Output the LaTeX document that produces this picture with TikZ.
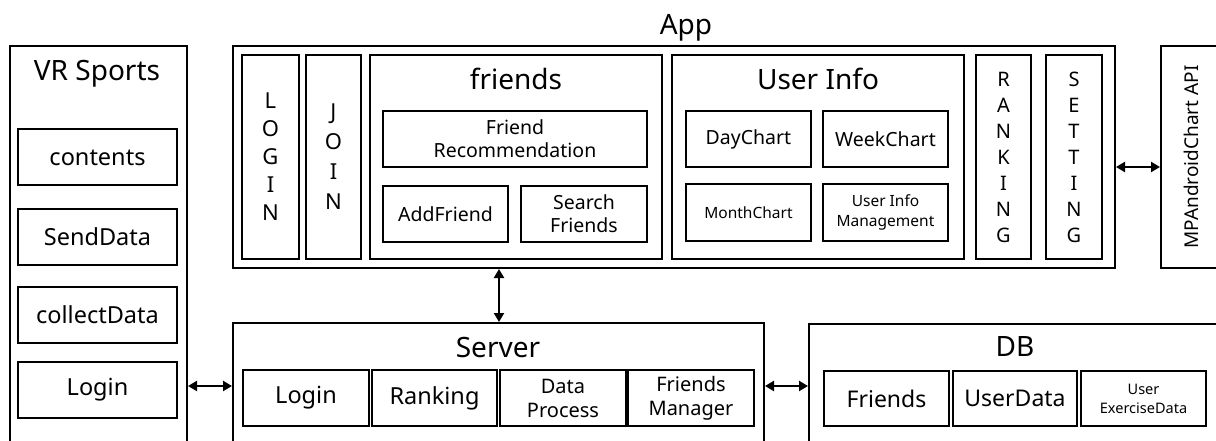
\documentclass[tikz,border=0pt]{standalone}
\usepackage{fontspec}
\setmainfont{Noto Sans}
\usetikzlibrary{arrows.meta}
\tikzset{
  box/.style={draw, line width=2pt, inner sep=0pt, align=center},
  sz/.style 2 args={minimum width=#1pt, minimum height=#2pt},
  txt/.style 2 args={font=\fontsize{#1}{#2}\selectfont},
  title/.style={inner sep=0pt, anchor=base, font=\fontsize{28}{32}\selectfont},
  link/.style={line width=2.2pt, {Triangle[length=9pt,width=10pt]}-{Triangle[length=9pt,width=10pt]}},
}
\begin{document}
\begin{tikzpicture}[x=1pt,y=-1pt]
\useasboundingbox (0,0) rectangle (1216,441);
\clip (0,0) rectangle (1216,441);

% outer containers (some run past the page edge)
\node[box, sz={177}{434}] (vr) at (98.5,263) {};
\node[box, sz={882}{222}] (app) at (674,157) {};
\node[box, sz={79}{222}] (mp) at (1200.5,157) {};
\node[box, sz={531}{157}] (server) at (498.5,401.5) {};
\node[box, sz={431}{156}] (db) at (1024.5,402) {};

% titles
\node[title] (appT) at (686,35) {App};
\node[title] (vrT) at (97,81) {VR Sports};
\node[title] (serverT) at (498,357) {Server};
\node[title] (dbT) at (1015,356) {DB};
\node[rotate=90, inner sep=0pt, txt={19}{22}] (mpT) at (1191,157) {MPAndroidChart API};

% VR Sports
\node[box, sz={159}{56}, txt={23.5}{28}] (contents) at (97.5,157.5) {contents};
\node[box, sz={159}{56}, txt={23.5}{28}] (senddata) at (97.5,237) {SendData};
\node[box, sz={159}{56}, txt={23.5}{28}] (collect) at (97.5,314.5) {collectData};
\node[box, sz={159}{56}, txt={23.5}{28}] (vrlogin) at (97.5,389.5) {Login};

% App
\node[box, sz={57}{204}, txt={22}{28}] (login) at (270.5,157) {L\\O\\G\\I\\N};
\node[box, sz={55}{204}, txt={22}{30}] (join) at (333.5,157) {J\\O\\I\\N};
\node[box, sz={292}{204}] (friends) at (516,157) {};
\node[title] (friendsT) at (516,90) {friends};
\node[box, sz={264}{56}, txt={19.5}{23}] (frec) at (515,139) {Friend\\Recommendation};
\node[box, sz={125}{56}, txt={19.5}{23}] (addf) at (445.5,214) {AddFriend};
\node[box, sz={126}{56}, txt={19.5}{23}] (searchf) at (584,214) {Search\\Friends};

\node[box, sz={292}{204}] (userinfo) at (818,157) {};
\node[title] (userinfoT) at (818,90) {User Info};
\node[box, sz={125}{56}, txt={19.5}{23}] (day) at (748.5,139) {DayChart};
\node[box, sz={125}{56}, txt={19.5}{23}] (week) at (885.5,139) {WeekChart};
\node[box, sz={125}{57}, txt={15.5}{20}] (month) at (748.5,212.5) {MonthChart};
\node[box, sz={125}{57}, txt={15.5}{20}] (uim) at (885.5,212.5) {User Info\\Management};

\node[box, sz={55}{204}, txt={20}{26}] (ranking) at (1003.5,157) {R\\A\\N\\K\\I\\N\\G};
\node[box, sz={56}{204}, txt={20}{26}] (setting) at (1074,157) {S\\E\\T\\T\\I\\N\\G};

% Server
\node[box, sz={126}{56}, txt={23.5}{28}] (slogin) at (306,398) {Login};
\node[box, sz={125}{56}, txt={23.5}{28}] (sranking) at (434.5,398) {Ranking};
\node[box, sz={126}{56}, txt={20}{24}] (dproc) at (563,398) {Data\\Process};
\node[box, sz={126}{56}, txt={20}{24}] (fman) at (691,398) {Friends\\Manager};

% DB
\node[box, sz={125}{55}, txt={23}{28}] (dfriends) at (886.5,398.5) {Friends};
\node[box, sz={124}{55}, txt={23}{28}] (udata) at (1015,398.5) {UserData};
\node[box, sz={125}{55}, txt={14.5}{19}] (uex) at (1143.5,398.5) {User\\ExerciseData};

% connectors
\coordinate (rowA) at (0,386);
\coordinate (colA) at (499,0);
\coordinate (rowB) at (0,167);
\draw[link] (vr.east |- rowA) -- (server.west |- rowA);
\draw[link] (server.east |- rowA) -- (db.west |- rowA);
\draw[link] (app.south -| colA) -- (server.north -| colA);
\draw[link] (app.east |- rowB) -- (mp.west |- rowB);
\end{tikzpicture}
\end{document}
